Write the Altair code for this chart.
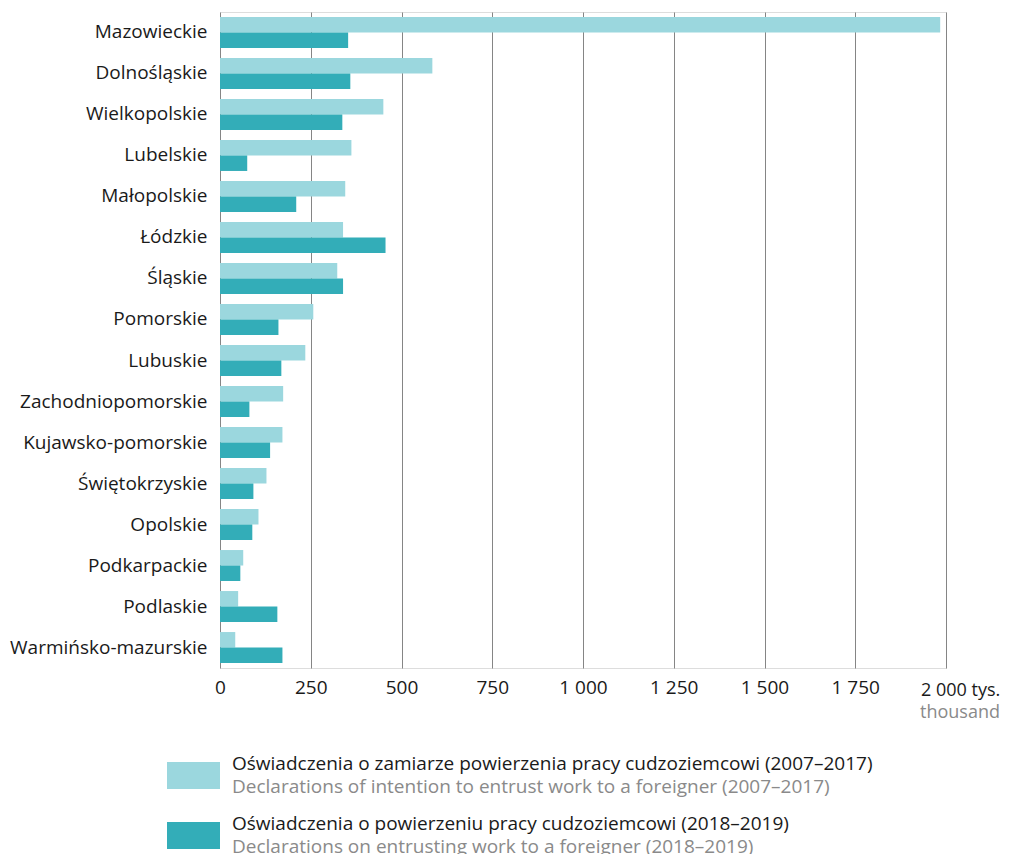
import altair as alt
import pandas as pd

FONT = "Open Sans"
FS = 19

regions = [
    "Mazowieckie", "Dolnośląskie", "Wielkopolskie", "Lubelskie", "Małopolskie",
    "Łódzkie", "Śląskie", "Pomorskie", "Lubuskie", "Zachodniopomorskie",
    "Kujawsko-pomorskie", "Świętokrzyskie", "Opolskie", "Podkarpackie",
    "Podlaskie", "Warmińsko-mazurskie",
]
decl_2007_2017 = [1984, 585, 450, 362, 345, 339, 323, 257, 235, 174, 172, 128, 106, 64, 50, 42]
decl_2018_2019 = [353, 359, 337, 75, 210, 456, 339, 161, 169, 81, 138, 92, 89, 56, 158, 172]

series_keys = ["2007–2017", "2018–2019"]
series_pl = [
    "Oświadczenia o zamiarze powierzenia pracy cudzoziemcowi (2007–2017)",
    "Oświadczenia o powierzeniu pracy cudzoziemcowi (2018–2019)",
]
series_en = [
    "Declarations of intention to entrust work to a foreigner (2007–2017)",
    "Declarations on entrusting work to a foreigner (2018–2019)",
]
series_colors = ["#9bd7de", "#33adb8"]

x_ticks = [0, 250, 500, 750, 1000, 1250, 1500, 1750, 2000]
x_max = 2000
last_tick_label = "2 000 tys."
unit_en = "thousand"

rows = []
for i, r in enumerate(regions):
    rows.append({"region": r, "series": series_keys[0], "value": decl_2007_2017[i]})
    rows.append({"region": r, "series": series_keys[1], "value": decl_2018_2019[i]})
df = pd.DataFrame(rows)

W, H = 726, 656
TXT = "#1a1a1a"
GRAY = "#8a8a8a"

bars = alt.Chart(df).mark_bar().encode(
    y=alt.Y(
        "region:N",
        sort=regions,
        scale=alt.Scale(paddingInner=0.245, paddingOuter=0.122),
        axis=alt.Axis(
            title=None, ticks=False, domain=False, grid=False, labelLimit=0,
            labelPadding=13, labelFontSize=FS, labelColor=TXT, labelFont=FONT,
        ),
    ),
    yOffset=alt.YOffset("series:N", sort=series_keys, scale=alt.Scale(paddingInner=0, paddingOuter=0)),
    x=alt.X(
        "value:Q",
        scale=alt.Scale(domain=[0, x_max], nice=False, zero=True),
        axis=alt.Axis(
            values=x_ticks, title=None, ticks=False, domain=False, grid=True,
            gridColor="#858585", gridWidth=1, labelFlush=False, labelOverlap=False,
            labelExpr=f"datum.value == {x_max} ? '' : replace(format(datum.value, ','), ',', ' ')",
            labelPadding=10, labelFontSize=FS, labelColor=TXT, labelFont=FONT,
        ),
    ),
    color=alt.Color("series:N", scale=alt.Scale(domain=series_keys, range=series_colors), legend=None),
)

one = pd.DataFrame({"t": [last_tick_label], "u": [unit_en]})
tys = alt.Chart(one).mark_text(
    align="left", baseline="alphabetic", font=FONT, fontSize=18, color=TXT, dx=-25
).encode(x=alt.datum(x_max), y=alt.value(684), text="t:N")
thousand = alt.Chart(one).mark_text(
    align="right", baseline="alphabetic", font=FONT, fontSize=18, color=GRAY, dx=54
).encode(x=alt.datum(x_max), y=alt.value(706), text="u:N")

leg_df = pd.DataFrame({"key": series_keys, "pl": series_pl, "en": series_en, "color": series_colors})
legend_layers = []
for i, key in enumerate(series_keys):
    base = alt.Chart(leg_df).transform_filter(alt.datum.key == key)
    y0 = 750 + 60 * i
    legend_layers.append(
        base.mark_rect(color=series_colors[i]).encode(
            x=alt.value(-53), x2=alt.value(0), y=alt.value(y0), y2=alt.value(y0 + 27)
        )
    )
    legend_layers.append(
        base.mark_text(align="left", baseline="alphabetic", font=FONT, fontSize=FS, color=TXT).encode(
            x=alt.value(12), y=alt.value(y0 + 8), text="pl:N"
        )
    )
    legend_layers.append(
        base.mark_text(align="left", baseline="alphabetic", font=FONT, fontSize=FS, color=GRAY).encode(
            x=alt.value(12), y=alt.value(y0 + 31), text="en:N"
        )
    )

chart = alt.layer(bars, tys, thousand, *legend_layers).properties(
    width=W, height=H,
    autosize=alt.AutoSizeParams(type="none"),
    padding={"left": 212, "top": 4, "right": 56, "bottom": 186},
).configure_view(stroke=None).configure(background="white")

chart.save("out.html", embed_options={"renderer": "svg", "actions": False})
